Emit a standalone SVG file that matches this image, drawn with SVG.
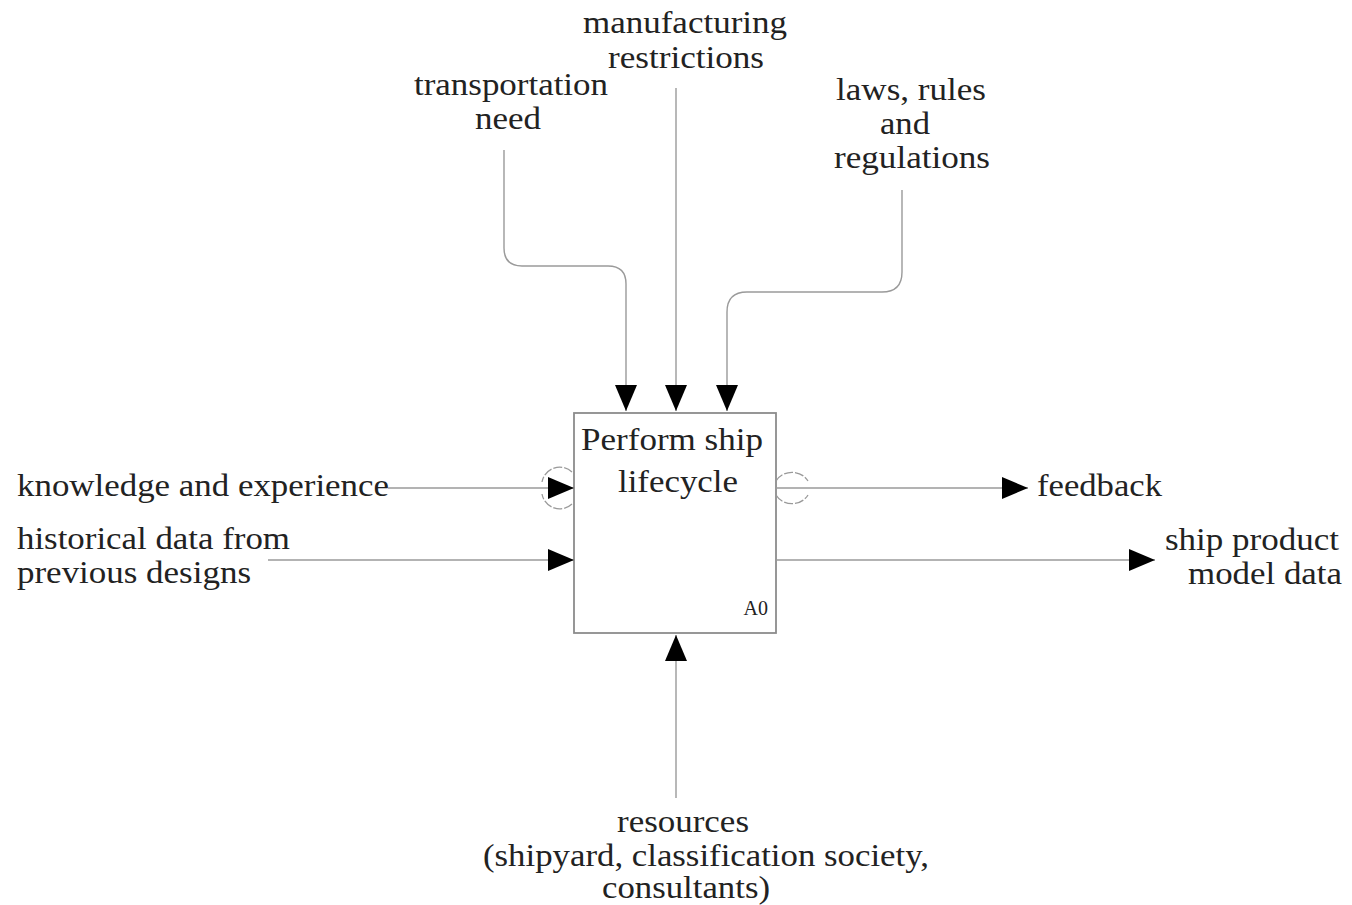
<svg xmlns="http://www.w3.org/2000/svg" width="1352" height="905" viewBox="0 0 1352 905">
  <style>
    .lbl { font-family: "Liberation Serif", "Times New Roman", serif; font-size: 30.5px; fill: #222; }
    .mid { text-anchor: middle; }
    .line { fill: none; stroke: #9a9a9a; stroke-width: 1.4; }
    .tunnel { fill: none; stroke: #999; stroke-width: 1.3; stroke-dasharray: 9 2; }
    .box { fill: #fff; stroke: #8c8c8c; stroke-width: 1.8; }
  </style>
  <defs>
    <marker id="head" viewBox="0 0 26 22" refX="26" refY="11" markerWidth="26" markerHeight="22" markerUnits="userSpaceOnUse" orient="auto">
      <path d="M0,0 L26,11 L0,22 Z" fill="#000"/>
    </marker>
  </defs>
  <rect width="1352" height="905" fill="#fff"/>

  <!-- activity box -->
  <g id="node-a0">
    <rect class="box" x="574" y="413" width="202" height="220"/>
    <text class="lbl mid" x="672" y="450" textLength="182" lengthAdjust="spacingAndGlyphs">Perform ship</text>
    <text class="lbl mid" x="678" y="492" textLength="120" lengthAdjust="spacingAndGlyphs">lifecycle</text>
    <text x="768" y="615" style="font-family:'Liberation Serif',serif;font-size:20px;fill:#222;text-anchor:end">A0</text>
  </g>

  <!-- labels -->
  <g id="node-manufacturing">
    <text class="lbl mid" x="685" y="33" textLength="204" lengthAdjust="spacingAndGlyphs">manufacturing</text>
    <text class="lbl mid" x="686" y="68" textLength="156" lengthAdjust="spacingAndGlyphs">restrictions</text>
  </g>
  <g id="node-transportation">
    <text class="lbl mid" x="511" y="95" textLength="194" lengthAdjust="spacingAndGlyphs">transportation</text>
    <text class="lbl mid" x="508" y="129" textLength="66" lengthAdjust="spacingAndGlyphs">need</text>
  </g>
  <g id="node-laws">
    <text class="lbl mid" x="911" y="100" textLength="150" lengthAdjust="spacingAndGlyphs">laws, rules</text>
    <text class="lbl mid" x="905" y="134" textLength="50" lengthAdjust="spacingAndGlyphs">and</text>
    <text class="lbl mid" x="912" y="168" textLength="156" lengthAdjust="spacingAndGlyphs">regulations</text>
  </g>
  <g id="node-knowledge">
    <text class="lbl" x="17" y="496" textLength="372" lengthAdjust="spacingAndGlyphs">knowledge and experience</text>
  </g>
  <g id="node-historical">
    <text class="lbl" x="17" y="549" textLength="273" lengthAdjust="spacingAndGlyphs">historical data from</text>
    <text class="lbl" x="17" y="583" textLength="234" lengthAdjust="spacingAndGlyphs">previous designs</text>
  </g>
  <g id="node-feedback">
    <text class="lbl" x="1037" y="496" textLength="125" lengthAdjust="spacingAndGlyphs">feedback</text>
  </g>
  <g id="node-shipdata">
    <text class="lbl" x="1165" y="550" textLength="174" lengthAdjust="spacingAndGlyphs">ship product</text>
    <text class="lbl" x="1188" y="584" textLength="154" lengthAdjust="spacingAndGlyphs">model data</text>
  </g>
  <g id="node-resources">
    <text class="lbl mid" x="683" y="832" textLength="132" lengthAdjust="spacingAndGlyphs">resources</text>
    <text class="lbl mid" x="706" y="866" textLength="446" lengthAdjust="spacingAndGlyphs">(shipyard, classification society,</text>
    <text class="lbl mid" x="686" y="898" textLength="168" lengthAdjust="spacingAndGlyphs">consultants)</text>
  </g>

  <!-- connectors -->
  <g id="connectors">
    <path class="line" marker-end="url(#head)" d="M504,150 V248 Q504,266 522,266 H608 Q626,266 626,284 V411"/>
    <path class="line" marker-end="url(#head)" d="M676,88 V411"/>
    <path class="line" marker-end="url(#head)" d="M902,190 V272 Q902,292 882,292 H747 Q727,292 727,312 V411"/>
    <path class="line" marker-end="url(#head)" d="M388,488 H574"/>
    <path class="line" marker-end="url(#head)" d="M268,560 H574"/>
    <path class="line" marker-end="url(#head)" d="M776,488 H1028"/>
    <path class="line" marker-end="url(#head)" d="M776,560 H1155"/>
    <path class="line" marker-end="url(#head)" d="M676,798 V635"/>
    <!-- tunnel marks -->
    <path class="tunnel" d="M572,472 A18,18 0 0 0 542,482"/>
    <path class="tunnel" d="M572,504 A18,18 0 0 1 542,494"/>
    <path class="tunnel" d="M776,481 A18,16 0 0 1 808,481"/>
    <path class="tunnel" d="M776,495 A18,16 0 0 0 808,495"/>
  </g>
</svg>
